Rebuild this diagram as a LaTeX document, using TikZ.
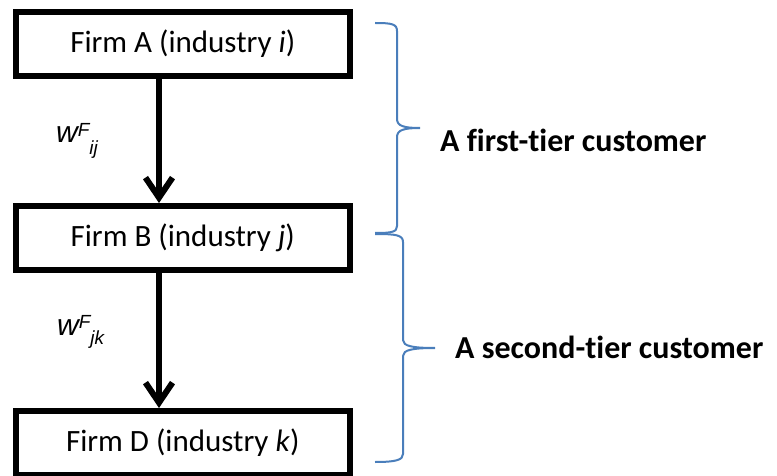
\documentclass[tikz,border=0pt]{standalone}
\usepackage{fontspec}
\setmainfont[Ligatures=CommonOff]{Carlito}
\newfontfamily\arialfont{Liberation Sans}
\usetikzlibrary{arrows.meta}
\definecolor{braceblue}{RGB}{74,126,187}
\begin{document}
\begin{tikzpicture}[x=1pt,y=-1pt,
 firm/.style={draw,line width=6pt,minimum width=333.5pt,minimum height=64pt,inner sep=0pt,font=\fontsize{31}{36}\selectfont},
 flow/.style={line width=6pt,-{Straight Barb[length=20pt,width=27pt]}},
 brace/.style={draw=braceblue,line width=2pt},
 tier/.style={font=\fontsize{32}{38}\selectfont\bfseries,anchor=base west,inner sep=0pt},
 wlab/.style={font=\fontsize{30}{34}\selectfont\arialfont\itshape,anchor=base west,inner sep=0pt}]
\useasboundingbox (0,0) rectangle (777,476);
\node[firm] (A) at (182.75,44) {Firm A (industry \textit{i})};
\node[firm] (B) at (182.75,238) {Firm B (industry \textit{j})};
\node[firm] (D) at (182.75,443) {Firm D (industry \textit{k})};
\coordinate (ax) at (159,0);
\draw[flow] (A.south -| ax) -- (B.north -| ax);
\draw[flow] (B.south -| ax) -- (D.north -| ax);
\node[wlab] (w1) at (56,143) {w\raisebox{6pt}{\fontsize{19}{22}\selectfont F}\raisebox{-12pt}{\fontsize{19}{22}\selectfont ij}};
\node[wlab] (w2) at (57,335) {w\raisebox{7pt}{\fontsize{19}{22}\selectfont F}\raisebox{-9pt}{\fontsize{19}{22}\selectfont jk}};
\draw[brace] (375,23) .. controls (392,23) and (397,24) .. (397,31) -- (397,119) .. controls (397,126) and (404,128) .. (420,128) .. controls (404,128) and (397,130) .. (397,137) -- (397,226) .. controls (397,232) and (392,233) .. (375,233);
\draw[brace] (375,234) .. controls (396,234) and (403,235) .. (403,242) -- (403,340) .. controls (403,346) and (412,348) .. (435,348) .. controls (412,348) and (403,350) .. (403,356) -- (403,454) .. controls (403,460) and (396,462) .. (375,462);
\node[tier] (t1) at (440,152) {A first-tier customer};
\node[tier] (t2) at (455,358) {A second-tier customer};
\end{tikzpicture}
\end{document}
